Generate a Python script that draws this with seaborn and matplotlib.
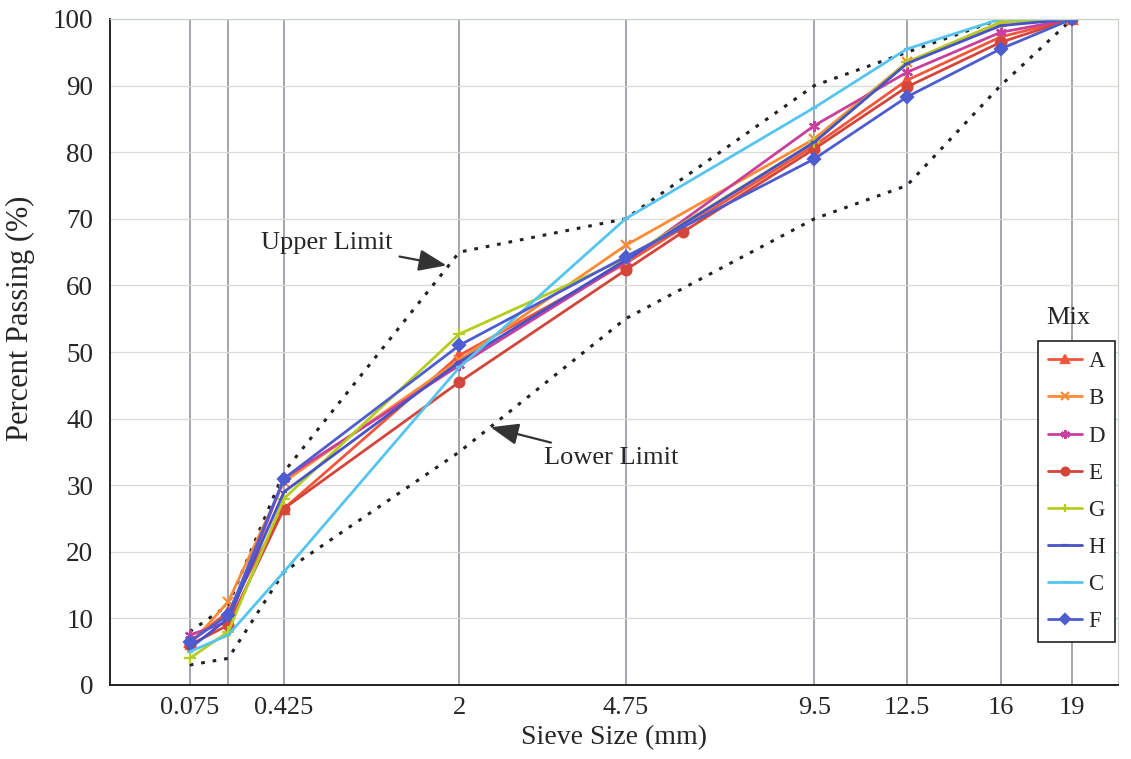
import numpy as np
import pandas as pd
import matplotlib
matplotlib.use("Agg")
import matplotlib.pyplot as plt
import seaborn as sns

# ---- data ----
sieve = [0.075, 0.18, 0.425, 2, 4.75, 9.5, 12.5, 16, 19]
tick_labels = ["0.075", "", "0.425", "2", "4.75", "9.5", "12.5", "16", "19"]
sieve_E = [0.075, 0.18, 0.425, 2, 4.75, 6.0, 9.5, 12.5, 16, 19]

mix_A = [6.5, 11.0, 26.5, 49.5, 63.3, 81.0, 90.8, 97.3, 100]
mix_B = [6.0, 12.5, 30.5, 48.8, 66.0, 82.0, 93.5, 99.5, 100]
mix_D = [7.5, 9.5, 31.0, 48.0, 63.5, 84.0, 92.0, 98.0, 100]
mix_E = [6.0, 9.0, 26.5, 45.5, 62.3, 68.0, 80.5, 89.8, 96.5, 100]
mix_G = [4.0, 8.0, 28.0, 52.7, 64.0, 81.5, 93.5, 99.5, 100]
mix_H = [5.5, 10.0, 29.0, 48.5, 63.8, 81.5, 93.3, 99.0, 100]
mix_C = [5.0, 7.5, 17.0, 47.7, 70.0, 86.7, 95.5, 100, 100]
mix_F = [6.5, 10.5, 31.0, 51.0, 64.3, 79.0, 88.3, 95.5, 100]

upper_limit = [8, 12, 32, 65, 70, 90, 95, 100, 100]
lower_limit = [3, 4, 17, 35, 55, 70, 75, 90, 100]

mix_names = ["A", "B", "D", "E", "G", "H", "C", "F"]
mix_values = {"A": mix_A, "B": mix_B, "D": mix_D, "E": mix_E,
              "G": mix_G, "H": mix_H, "C": mix_C, "F": mix_F}
mix_x = {k: (sieve_E if k == "E" else sieve) for k in mix_names}

colors = {"A": "#f2553a", "B": "#ff8a35", "D": "#c93f9c", "E": "#d4453a",
          "G": "#b5cd1e", "H": "#4752c6", "C": "#55c5ef", "F": "#4d5ccf"}
markers = {"A": "^", "B": "x", "D": (6, 2, 0), "E": "o", "G": "+",
           "H": "_", "C": "_", "F": "D"}
msizes = {"A": 7, "B": 7, "D": 8, "E": 7, "G": 8, "H": 5, "C": 5, "F": 6}

# ---- style ----
sns.set_style("white")
plt.rcParams["font.family"] = ["Liberation Serif", "DejaVu Serif"]

fig = plt.figure(figsize=(11.31, 7.59), dpi=100)
ax = fig.add_axes([110 / 1131, 1 - 685 / 759, (1118 - 110) / 1131, (685 - 19) / 759])

p = 0.45
ax.set_xscale("function",
              functions=(lambda x: np.power(np.clip(x, 0, None), p),
                         lambda u: np.power(np.clip(u, 0, None), 1 / p)))

# limits
for lim in (upper_limit, lower_limit):
    sns.lineplot(x=sieve, y=lim, ax=ax, color="#222222", lw=2.2,
                 linestyle=(0, (1.2, 2.6)), legend=False, sort=False)

for k in mix_names:
    sns.lineplot(x=mix_x[k], y=mix_values[k], ax=ax, color=colors[k],
                 marker=markers[k], markersize=msizes[k],
                 markeredgecolor=colors[k], markerfacecolor=colors[k],
                 markeredgewidth=1.6, lw=2.0, label=k, sort=False)

handles, labels = ax.get_legend_handles_labels()
if ax.get_legend() is not None:
    ax.get_legend().remove()

ax.set_xlim(0, 21.07)
ax.set_ylim(0, 100)

ax.set_xticks(sieve)
ax.set_xticklabels(tick_labels)
ax.set_yticks(np.arange(0, 101, 10))
ax.set_yticks(np.arange(0, 101, 2), minor=True)
ax.tick_params(axis="x", length=0, labelsize=19, pad=9)
ax.tick_params(axis="y", which="major", direction="inout", length=12,
               width=1.2, labelsize=19.5, pad=6)
ax.tick_params(axis="y", which="minor", direction="in", length=5, width=1.0)

ax.grid(False)
for s in sieve:
    ax.axvline(s, color="#8c8c98", lw=1.1, zorder=0)
for yv in range(10, 101, 10):
    ax.axhline(yv, color="#d3ddd3", lw=0.9, zorder=0)

for side in ("top", "right"):
    ax.spines[side].set_color("#c8d4c8")
    ax.spines[side].set_linewidth(0.9)
for side in ("left", "bottom"):
    ax.spines[side].set_color("#222222")
    ax.spines[side].set_linewidth(1.4)

ax.set_xlabel("Sieve Size (mm)", fontsize=20, labelpad=4)
ax.set_ylabel("Percent Passing (%)", fontsize=22)
ax.yaxis.set_label_coords(-0.074, 0.55)

# annotations
arrow = dict(arrowstyle="-|>,head_length=0.9,head_width=0.35",
             color="#333333", lw=1.6, shrinkA=3, shrinkB=0)
ax.annotate("Upper Limit", xy=(1.84, 63), xytext=(0.69, 66.4),
            fontsize=19, ha="center", va="center", arrowprops=arrow)
ax.annotate("Lower Limit", xy=(2.42, 38.7), xytext=(4.46, 34.1),
            fontsize=19, ha="center", va="center", arrowprops=arrow)

# legend
hmap = dict(zip(labels, handles))
leg = fig.legend([hmap[k] for k in mix_names], mix_names,
                 loc="upper left", bbox_to_anchor=(1038 / 1131, 1 - 341 / 759),
                 bbox_transform=fig.transFigure, fontsize=16.5,
                 frameon=True, fancybox=False, edgecolor="#222222",
                 framealpha=1, handlelength=1.45, handletextpad=0.3,
                 labelspacing=0.7, borderpad=0.45, borderaxespad=0,
                 markerscale=0.8)
leg.get_frame().set_linewidth(1.2)
fig.text(1068 / 1131, 1 - 318 / 759, "Mix", fontsize=19, ha="center", va="center")

fig.savefig("out.png", dpi=100)
